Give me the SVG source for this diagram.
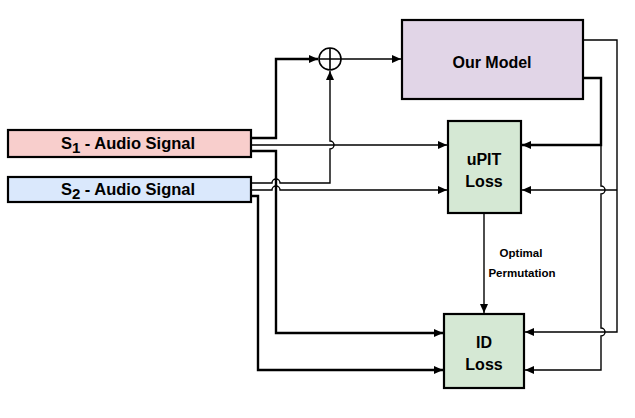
<svg xmlns="http://www.w3.org/2000/svg" width="635" height="418" viewBox="0 0 635 418">
<defs>
<marker id="ah" markerUnits="userSpaceOnUse" markerWidth="10" markerHeight="8" refX="9" refY="4" orient="auto">
<path d="M0,0 L9,4 L0,8 Z" fill="#000"/>
</marker>
<style>
.node{stroke:#000;stroke-width:2.2}
.t{font-family:"Liberation Sans",Arial,sans-serif;font-weight:bold;fill:#000;text-anchor:middle}
.thick{fill:none;stroke:#000;stroke-width:2.4}
.thin{fill:none;stroke:#000;stroke-width:1.4}
.arr{marker-end:url(#ah)}
</style>
</defs>
<rect width="635" height="418" fill="#fff"/>
<g id="connectors">
<path class="thick arr" d="M251,138 H276 V59 H318"/>
<path class="thin arr" d="M251,145 H447"/>
<path class="thick arr" d="M251,151 H276 V333 H443"/>
<path class="thin arr" d="M251,183 H272 A4,4 0 0 1 280,183 H330 V149 A4,4 0 0 0 330,141 V71"/>
<path class="thin arr" d="M251,190 H272 A4,4 0 0 1 280,190 H447"/>
<path class="thick arr" d="M251,196 H258 V370 H443"/>
<path class="thin arr" d="M341,59 H401"/>
<path class="thin arr" d="M484,213 V313"/>
<path class="thick arr" d="M583,78 H601 V145 H522"/>
<path class="thin arr" d="M601,145 V186 A4,4 0 0 1 601,194 V328 A4,4 0 0 1 601,336 V370 H525"/>
<path class="thin arr" d="M583,40 H617 V332 H525"/>
<path class="thin arr" d="M617,190 H522"/>
</g>
<g id="sum">
<circle cx="330" cy="59" r="11" fill="#fff" stroke="#000" stroke-width="1.6"/>
<path d="M319,59 H341 M330,48 V70" stroke="#000" stroke-width="1.6"/>
</g>
<g id="s1">
<rect class="node" x="8" y="130" width="243" height="27" fill="#f8cecc"/>
<text class="t" x="128" y="149" font-size="16.5">S<tspan font-size="15" dy="4">1</tspan><tspan dy="-4"> - Audio Signal</tspan></text>
</g>
<g id="s2">
<rect class="node" x="8" y="177" width="243" height="25" fill="#dae8fc"/>
<text class="t" x="128" y="195" font-size="16.5">S<tspan font-size="15" dy="4">2</tspan><tspan dy="-4"> - Audio Signal</tspan></text>
</g>
<g id="model">
<rect class="node" x="402" y="20" width="181" height="79" fill="#e1d5e7"/>
<text class="t" x="492" y="68" font-size="16">Our Model</text>
</g>
<g id="upit">
<rect class="node" x="448" y="121" width="73" height="92" fill="#d5e8d4"/>
<text class="t" x="484" y="165" font-size="16">uPIT</text>
<text class="t" x="484" y="187" font-size="16">Loss</text>
</g>
<g id="id">
<rect class="node" x="444" y="314" width="80" height="74" fill="#d5e8d4"/>
<text class="t" x="484" y="348" font-size="16">ID</text>
<text class="t" x="484" y="370" font-size="16">Loss</text>
</g>
<g id="label">
<text class="t" x="521" y="257" font-size="11.5">Optimal</text>
<text class="t" x="522" y="277" font-size="11.5">Permutation</text>
</g>
</svg>
